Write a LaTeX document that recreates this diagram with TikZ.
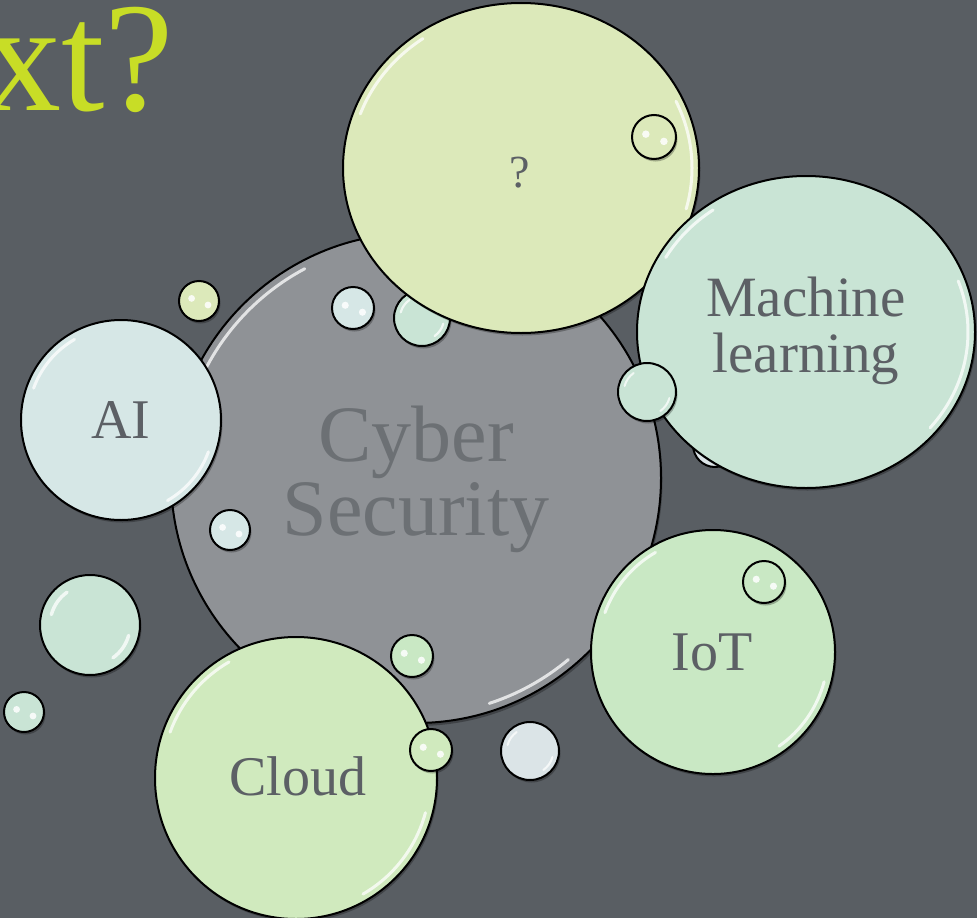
\documentclass[tikz,border=0pt]{standalone}
\usepackage{fontspec}
\setmainfont{Liberation Serif}
\definecolor{bg}{RGB}{89,94,99}
\definecolor{csgray}{RGB}{143,146,150}
\definecolor{qgreen}{RGB}{220,233,186}
\definecolor{mlmint}{RGB}{201,228,213}
\definecolor{aiblue}{RGB}{214,231,230}
\definecolor{iotgreen}{RGB}{201,232,196}
\definecolor{cloudgreen}{RGB}{208,234,190}
\definecolor{pale}{RGB}{219,228,231}
\definecolor{txtgray}{RGB}{92,96,101}
\definecolor{titlegreen}{RGB}{200,221,38}
\tikzset{
  bubble/.style={draw=black, line width=2pt},
  dropshade/.style={fill=black, opacity=0.28},
  gloss/.style={draw=white, line width=3pt, line cap=round, opacity=0.75},
  bubbletext/.style={text=txtgray, font=\fontsize{56}{56}\selectfont, align=center, inner sep=0pt},
}
\begin{document}
\begin{tikzpicture}[x=1pt,y=-1pt]
  \fill[bg] (0,0) rectangle (977,918);
  \useasboundingbox (0,0) rectangle (977,918);
  \clip (0,0) rectangle (977,918);
  \node[anchor=base east, text=titlegreen, font=\fontsize{156}{156}\selectfont, inner sep=0pt] (title) at (174,110) {xt?};

  % centre bubble
  \coordinate (cyber) at (416,478);
  \fill[dropshade] (417.5,481) circle[radius=245];
  \filldraw[bubble, fill=csgray] (cyber) circle[radius=245];
  \draw[gloss] (cyber) ++(-118:237) arc[start angle=-118, end angle=-158, radius=237];
  \draw[gloss] (cyber) ++(50:237) arc[start angle=50, end angle=72, radius=237];
  \node[bubbletext, text={rgb,255:red,108;green,112;blue,116}, font=\fontsize{80}{74}\selectfont] (cybertext) at (416,479) {Cyber\\Security};

  % bubble hidden behind the question
  \fill[dropshade] (423.5,320.5) circle[radius=28];
  \filldraw[bubble, fill=mlmint] (422,318) circle[radius=28];
  \draw[gloss, line width=2.2pt] (422,318) ++(-125:22) arc[start angle=-125, end angle=-165, radius=22];
  \draw[gloss, line width=2.2pt] (422,318) ++(15:22) arc[start angle=15, end angle=55, radius=22];

  % question
  \coordinate (quest) at (521,168);
  \fill[dropshade] (522.5,170.5) ellipse[x radius=178, y radius=165];
  \filldraw[bubble, fill=qgreen] (quest) ellipse[x radius=178, y radius=165];
  \draw[gloss] (quest) ++(-125:171 and 158) arc[start angle=-125, end angle=-160, x radius=171, y radius=158];
  \draw[gloss] (quest) ++(-25:171 and 158) arc[start angle=-25, end angle=15, x radius=171, y radius=158];
  \node[bubbletext, anchor=base, font=\fontsize{46}{46}\selectfont] (questtext) at (520,187) {?};

  % AI
  \coordinate (ai) at (121,420);
  \fill[dropshade] (122.5,422.5) circle[radius=100];
  \filldraw[bubble, fill=aiblue] (ai) circle[radius=100];
  \draw[gloss] (ai) ++(-120:93) arc[start angle=-120, end angle=-160, radius=93];
  \draw[gloss] (ai) ++(20:93) arc[start angle=20, end angle=60, radius=93];
  \node[bubbletext, anchor=base] (aitext) at (121,438) {AI};

  % machine learning
  \coordinate (ml) at (806,332);
  \fill[dropshade] (715,445) circle[radius=22];
  \filldraw[bubble, fill=pale] (715,445) circle[radius=22];
  \fill[dropshade] (807.5,334.5) ellipse[x radius=169, y radius=156];
  \filldraw[bubble, fill=mlmint] (ml) ellipse[x radius=169, y radius=156];
  \draw[gloss] (ml) ++(-20:162 and 149) arc[start angle=-20, end angle=40, x radius=162, y radius=149];
  \draw[gloss] (ml) ++(-125:162 and 149) arc[start angle=-125, end angle=-150, x radius=162, y radius=149];
  \node[bubbletext, font=\fontsize{57}{56}\selectfont] (mltext) at (806,331) {Machine\\learning};

  % IoT
  \coordinate (iot) at (713,652);
  \fill[dropshade] (714.5,654.5) circle[radius=122];
  \filldraw[bubble, fill=iotgreen] (iot) circle[radius=122];
  \draw[gloss] (iot) ++(-120:115) arc[start angle=-120, end angle=-160, radius=115];
  \draw[gloss] (iot) ++(15:115) arc[start angle=15, end angle=55, radius=115];
  \node[bubbletext, anchor=base] (iottext) at (712,670) {IoT};

  % cloud
  \coordinate (cloud) at (296,778);
  \fill[dropshade] (297.5,780.5) circle[radius=141];
  \filldraw[bubble, fill=cloudgreen] (cloud) circle[radius=141];
  \draw[gloss] (cloud) ++(-120:134) arc[start angle=-120, end angle=-160, radius=134];
  \draw[gloss] (cloud) ++(15:134) arc[start angle=15, end angle=60, radius=134];
  \node[bubbletext, anchor=base] (cloudtext) at (298,795) {Cloud};

  % small bubbles
  \foreach \x/\y/\r/\c in {199/301/20/qgreen, 353/308/21/aiblue, 654/137/22/qgreen,
      230/530/20/aiblue, 24/712/20/mlmint, 412/656/21/iotgreen,
      431/750/21/cloudgreen, 764/582/21/iotgreen} {
    \fill[dropshade] (\x+1.5,\y+2.5) circle[radius=\r];
    \filldraw[bubble, fill=\c] (\x,\y) circle[radius=\r];
    \fill[white, opacity=0.85] (\x-0.37*\r,\y-0.13*\r) circle[radius=0.17*\r]
      (\x+0.45*\r,\y+0.2*\r) circle[radius=0.17*\r];
  }
  \foreach \x/\y/\r/\c in {647/392/29/mlmint, 90/625/50/mlmint, 530/751/29/pale} {
    \fill[dropshade] (\x+1.5,\y+2.5) circle[radius=\r];
    \filldraw[bubble, fill=\c] (\x,\y) circle[radius=\r];
    \draw[gloss, line width=0.07*\r] (\x,\y) ++(-125:0.8*\r) arc[start angle=-125, end angle=-165, radius=0.8*\r];
    \draw[gloss, line width=0.07*\r] (\x,\y) ++(15:0.8*\r) arc[start angle=15, end angle=55, radius=0.8*\r];
  }
\end{tikzpicture}
\end{document}
